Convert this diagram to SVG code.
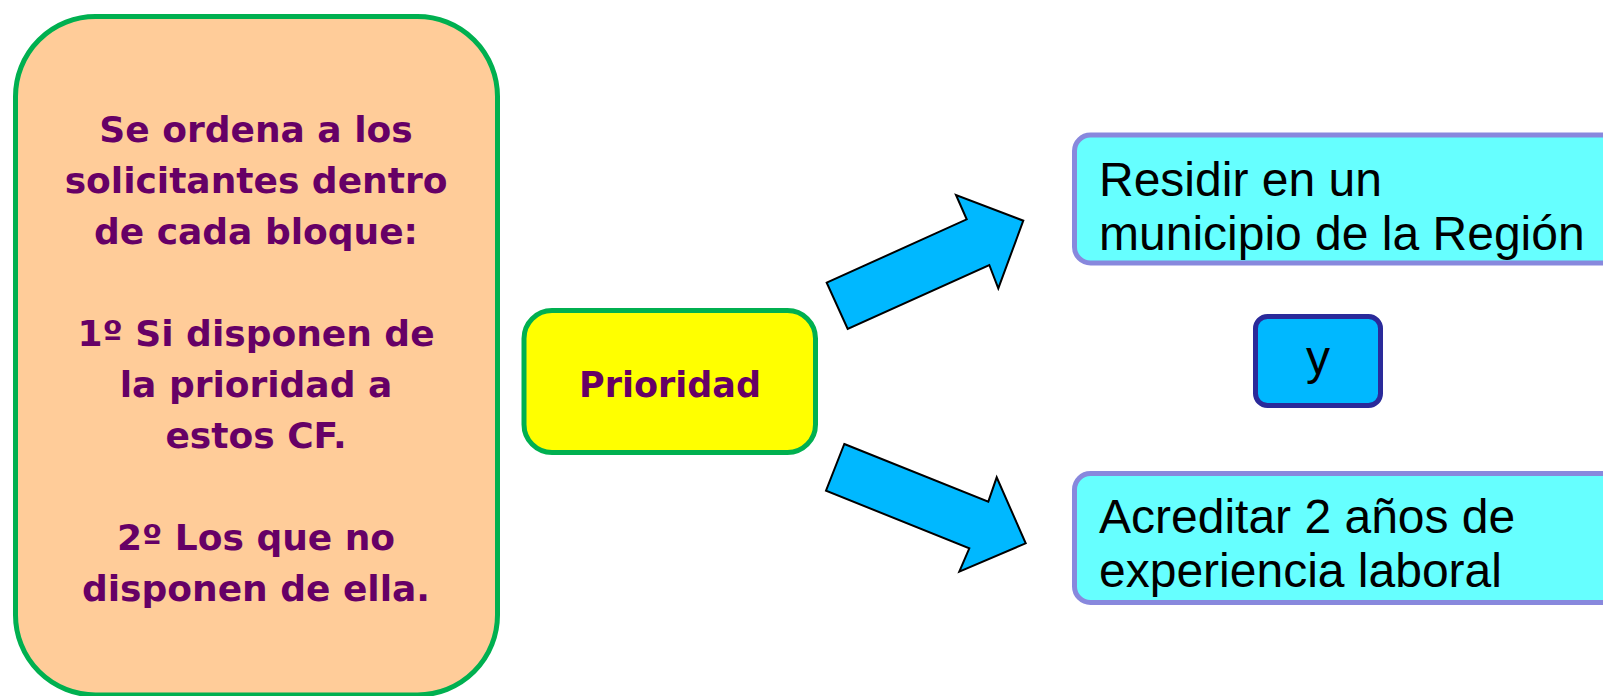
<svg xmlns="http://www.w3.org/2000/svg" width="1603" height="696" viewBox="0 0 1603 696">
<style>
.lt{font-family:"DejaVu Sans","Liberation Sans",sans-serif;font-weight:bold;font-size:36px;fill:#660066;text-anchor:middle}
.rt{font-family:"Liberation Sans",Arial,sans-serif;font-size:48px;fill:#000000}
.cond{fill:#66FFFF;stroke:#8888DD;stroke-width:5}
.arrow{fill:#00B8FF;stroke:#000000;stroke-width:2;stroke-linejoin:miter}
</style>
<rect x="0" y="0" width="1603" height="696" fill="#FFFFFF"/>
<g id="node-criterio">
<rect x="15.5" y="16.5" width="482" height="678.5" rx="80" ry="80" fill="#FFCC99" stroke="#00B050" stroke-width="5"/>
<text class="lt" x="256" y="142">Se ordena a los</text>
<text class="lt" x="256" y="193">solicitantes dentro</text>
<text class="lt" x="256" y="244">de cada bloque:</text>
<text class="lt" x="256" y="346">1º Si disponen de</text>
<text class="lt" x="256" y="397">la prioridad a</text>
<text class="lt" x="256" y="448">estos CF.</text>
<text class="lt" x="256" y="550">2º Los que no</text>
<text class="lt" x="256" y="601">disponen de ella.</text>
</g>
<g id="node-prioridad">
<rect x="524" y="310.5" width="291.5" height="142" rx="28" ry="28" fill="#FFFF00" stroke="#00B050" stroke-width="5"/>
<text class="lt" x="670" y="397" style="font-size:35px">Prioridad</text>
</g>
<g id="connectors">
<polygon class="arrow" points="826.7,282.7 966.7,219.3 956,195 1023.3,220.7 998.3,288.3 989.3,265 847.7,329"/>
<polygon class="arrow" points="844.3,444 988.3,501.7 996.7,477.3 1025.7,543.3 959.3,571.7 969.3,548.3 826,490.7"/>
</g>
<g id="node-residir">
<rect class="cond" x="1074.5" y="135" width="560" height="128" rx="16" ry="16"/>
<text class="rt" x="1099" y="196">Residir en un</text>
<text class="rt" x="1099" y="250">municipio de la Región</text>
</g>
<g id="node-y">
<rect x="1255.5" y="316.5" width="125" height="89" rx="12" ry="12" fill="#00B8FF" stroke="#2A2A9A" stroke-width="5"/>
<text class="rt" x="1318" y="374" text-anchor="middle">y</text>
</g>
<g id="node-acreditar">
<rect class="cond" x="1074.5" y="473.5" width="560" height="129" rx="16" ry="16"/>
<text class="rt" x="1099" y="533">Acreditar 2 años de</text>
<text class="rt" x="1099" y="587">experiencia laboral</text>
</g>
</svg>
